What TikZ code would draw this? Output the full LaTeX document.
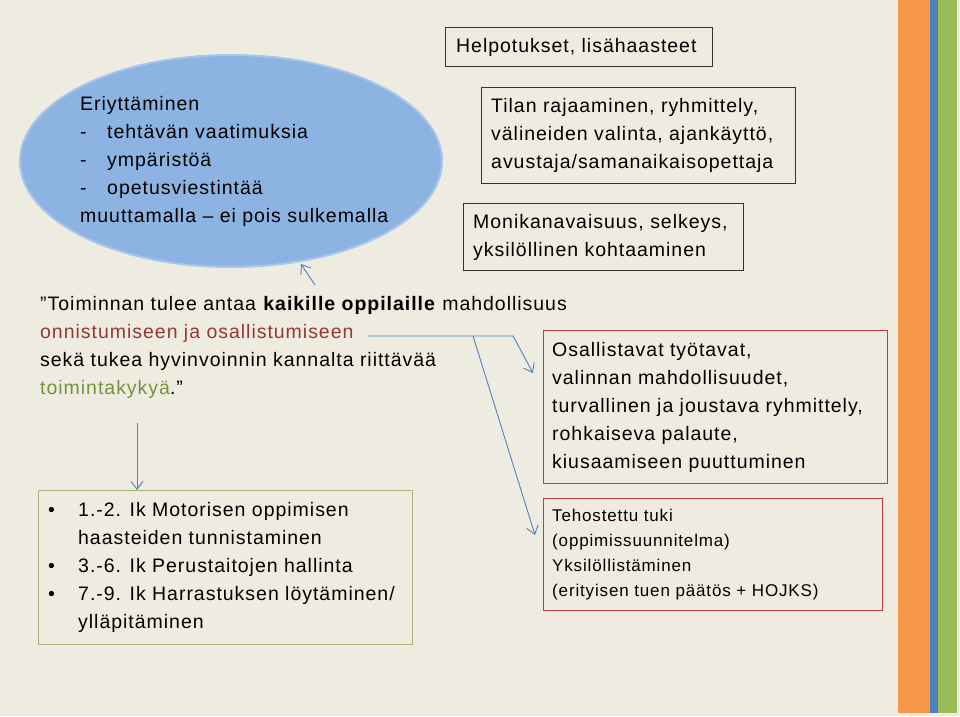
\documentclass[tikz,border=0pt]{standalone}
\usepackage{fontspec}
\setmainfont{Liberation Sans}[LetterSpace=5]
\usetikzlibrary{arrows.meta,shapes.geometric}
\definecolor{bg}{HTML}{EEECE1}
\definecolor{ellfill}{RGB}{141,179,226}
\definecolor{elldraw}{RGB}{168,198,236}
\definecolor{arrowblue}{HTML}{4F81BD}
\definecolor{boxred}{RGB}{192,60,60}
\definecolor{boxgreen}{RGB}{165,180,115}
\definecolor{txtred}{HTML}{953735}
\definecolor{txtgreen}{HTML}{76923C}
\definecolor{stripeorange}{HTML}{F79646}
\definecolor{stripeblue}{HTML}{4F81BD}
\definecolor{stripegreen}{HTML}{9BBB59}
\begin{document}
\begin{tikzpicture}[x=1pt,y=-1pt,
  blackbox/.style={draw=black!80, line width=1.1pt, inner sep=0pt, anchor=north west},
  redbox/.style={draw=boxred, line width=1.1pt, inner sep=0pt, anchor=north west},
  greenbox/.style={draw=boxgreen, line width=1.1pt, inner sep=0pt, anchor=north west},
  txt/.style={inner sep=0pt, align=left, font=\fontsize{19.5pt}{28pt}\selectfont},
  smalltxt/.style={inner sep=0pt, align=left, font=\fontsize{17pt}{25pt}\selectfont},
  arr/.style={draw=arrowblue, line width=0.9pt, -{Straight Barb[length=8pt,width=12pt]}}
]
\fill[bg] (0,0) rectangle (960,716);
\useasboundingbox (0,0) rectangle (960,716);
% stripes
\fill[stripeorange] (898,0) rectangle (930,713);
\fill[stripeblue] (930,0) rectangle (938,713);
\fill[stripegreen] (938,0) rectangle (957,713);

% ellipse
\node[ellipse, fill=ellfill, draw=elldraw, line width=2pt, minimum width=422pt, minimum height=212pt, inner sep=0pt] (ell) at (231,161) {};
\node[txt, anchor=north west] (elltext) at (80,96) {Eriyttäminen\\
\makebox[27pt][l]{-}tehtävän vaatimuksia\\
\makebox[27pt][l]{-}ympäristöä\\
\makebox[27pt][l]{-}opetusviestintää\\
muuttamalla – ei pois sulkemalla};

% top right boxes
\node[blackbox, minimum width=267pt, minimum height=39pt] (helpo) at (445,27) {};
\node[txt, anchor=west] (helpotxt) at ([xshift=11pt]helpo.west) {Helpotukset, lisähaasteet};

\node[blackbox, minimum width=314pt, minimum height=96pt] (tilan) at (481,87) {};
\node[txt, anchor=west] (tilantxt) at ([xshift=10pt]tilan.west) {Tilan rajaaminen, ryhmittely,\\välineiden valinta, ajankäyttö,\\avustaja/samanaikaisopettaja};

\node[blackbox, minimum width=280pt, minimum height=67pt] (moni) at (463,203) {};
\node[txt, anchor=west] (monitxt) at ([xshift=10pt]moni.west) {Monikanavaisuus, selkeys,\\yksilöllinen kohtaaminen};

% quote
\node[txt, anchor=north west] (quote) at (40,296) {”Toiminnan tulee antaa \textbf{kaikille oppilaille} mahdollisuus\\
\textcolor{txtred}{onnistumiseen ja osallistumiseen}\\
sekä tukea hyvinvoinnin kannalta riittävää\\
\textcolor{txtgreen}{toimintakykyä}.”};

% red boxes
\node[redbox, minimum width=344pt, minimum height=153pt] (osal) at (543,330) {};
\node[txt, anchor=west] (osaltxt) at ([xshift=9pt]osal.west) {Osallistavat työtavat,\\valinnan mahdollisuudet,\\turvallinen ja joustava ryhmittely,\\rohkaiseva palaute,\\kiusaamiseen puuttuminen};

\node[redbox, minimum width=339pt, minimum height=112pt] (teho) at (543,498) {};
\node[smalltxt, anchor=west] (tehotxt) at ([xshift=9pt]teho.west) {Tehostettu tuki\\(oppimissuunnitelma)\\Yksilöllistäminen\\(erityisen tuen päätös + HOJKS)};

% green box
\node[greenbox, minimum width=374pt, minimum height=154pt] (green) at (38,490) {};
\node[txt, anchor=west] (greentxt) at ([xshift=10pt]green.west) {\makebox[30pt][l]{•}1.-2. Ik Motorisen oppimisen\\
\makebox[30pt][l]{}haasteiden tunnistaminen\\
\makebox[30pt][l]{•}3.-6. Ik Perustaitojen hallinta\\
\makebox[30pt][l]{•}7.-9. Ik Harrastuksen löytäminen/\\
\makebox[30pt][l]{}ylläpitäminen};

% connectors
\coordinate (upstart) at (315,285);
\coordinate (uptip) at (301,264);
\draw[arr] (upstart) -- (uptip);

\coordinate (downstart) at (137,423);
\draw[arr] (downstart) -- (downstart |- green.north);

\coordinate (hstart) at (368,336);
\coordinate (hbend) at (513,336);
\coordinate (tip1) at (533,373);
\draw[arr] (hstart) -- (hbend) -- (tip1);

\coordinate (dstart) at (473,336);
\coordinate (tip2) at (535,535);
\draw[arr] (dstart) -- (tip2);
\end{tikzpicture}
\end{document}
